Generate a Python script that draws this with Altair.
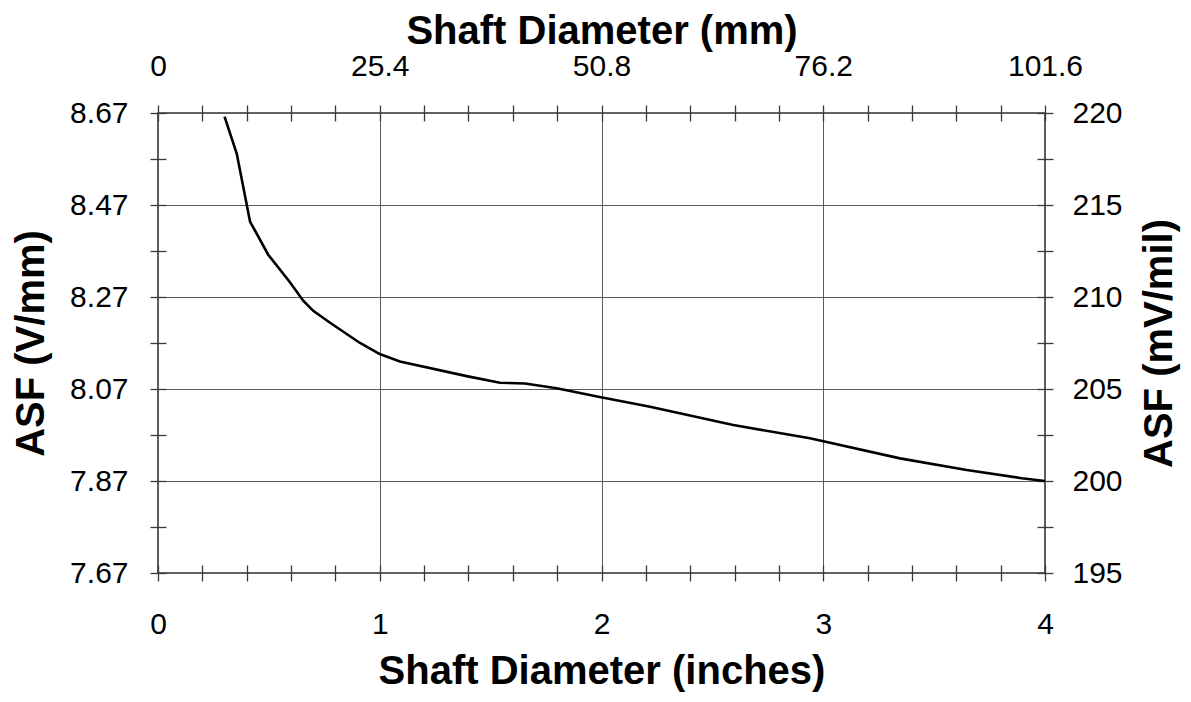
import altair as alt
import pandas as pd

# Curve: shaft diameter (inches) vs ASF (mV/mil)
diam_in = [0.30, 0.355, 0.415, 0.497, 0.595, 0.655, 0.70, 0.776, 0.911, 1.0,
           1.091, 1.392, 1.542, 1.655, 1.798, 1.986, 2.219, 2.594, 2.94,
           3.346, 3.647, 3.895, 4.0]
asf_mv_mil = [219.8, 217.8, 214.1, 212.3, 210.8, 209.8, 209.25, 208.6, 207.5,
              206.9, 206.5, 205.7, 205.34, 205.3, 205.04, 204.58, 204.04,
              203.04, 202.32, 201.23, 200.6, 200.15, 200.0]

# Tick positions (major + minor) for the four axes
inch_ticks = [round(i * 0.2, 1) for i in range(21)]
mm_ticks = [round(i * 5.08, 2) for i in range(21)]
vmm_ticks = [round(7.67 + i * 0.1, 2) for i in range(11)]
mvmil_ticks = [195 + i * 2.5 for i in range(11)]

df = pd.DataFrame({"inches": diam_in, "mv": asf_mv_mil})

FONT = "Liberation Sans"
TICK = "#3a3a3a"
GRID = "#5c5c5c"

common = dict(
    labelFont=FONT, labelFontSize=30, labelColor="black",
    titleFont=FONT, titleFontSize=40, titleFontWeight="bold", titleColor="black",
    domain=False, tickColor=TICK, tickWidth=1.3, tickSize=16, offset=-8,
    labelFlush=False, labelOverlap=False,
)

line = alt.Chart(df).mark_line(color="black", strokeWidth=2.6).encode(
    x=alt.X("inches:Q",
            scale=alt.Scale(domain=[0, 4], nice=False, zero=False),
            axis=alt.Axis(orient="bottom", values=inch_ticks,
                          title="Shaft Diameter (inches)",
                          labelExpr="datum.value % 1 === 0 ? format(datum.value, 'd') : ''",
                          labelPadding=28, titlePadding=12,
                          grid=True, gridColor=GRID, gridWidth=1,
                          gridOpacity={"condition": {"test": "datum.value % 1 === 0", "value": 1}, "value": 0},
                          **common)),
    y=alt.Y("mv:Q",
            scale=alt.Scale(domain=[195, 220], nice=False, zero=False),
            axis=alt.Axis(orient="right", values=mvmil_ticks,
                          title="ASF (mV/mil)", titleAngle=270, titleBaseline="top",
                          labelExpr="datum.value % 5 === 0 ? format(datum.value, 'd') : ''",
                          labelPadding=19, titlePadding=17,
                          grid=True, gridColor=GRID, gridWidth=1,
                          gridOpacity={"condition": {"test": "datum.value % 5 === 0", "value": 1}, "value": 0},
                          **common)),
)

ghost = alt.Chart(df).transform_calculate(
    mm="datum.inches * 25.4",
    vmm="7.87 + (datum.mv - 200) * 0.04",
).mark_line(opacity=0).encode(
    x=alt.X("mm:Q",
            scale=alt.Scale(domain=[0, 101.6], nice=False, zero=False),
            axis=alt.Axis(orient="top", values=mm_ticks,
                          title="Shaft Diameter (mm)",
                          labelExpr="abs(datum.value / 25.4 - round(datum.value / 25.4)) < 0.001 ? format(datum.value, '~f') : ''",
                          labelPadding=24, titlePadding=0, grid=False,
                          **common)),
    y=alt.Y("vmm:Q",
            scale=alt.Scale(domain=[7.67, 8.67], nice=False, zero=False),
            axis=alt.Axis(orient="left", values=vmm_ticks,
                          title="ASF (V/mm)",
                          labelExpr="abs((datum.value - 7.67) / 0.2 - round((datum.value - 7.67) / 0.2)) < 0.01 ? format(datum.value, '.2f') : ''",
                          labelPadding=22, titlePadding=18, grid=False,
                          **common)),
)

chart = alt.layer(line, ghost).resolve_scale(
    x="independent", y="independent"
).properties(
    width=887, height=460,
    autosize="none",
    padding={"left": 150, "top": 105, "right": 138, "bottom": 121},
    background="white",
).configure_view(stroke="#333333", strokeWidth=1.6)

chart.save("out.html", embed_options={"renderer": "svg", "actions": False})
